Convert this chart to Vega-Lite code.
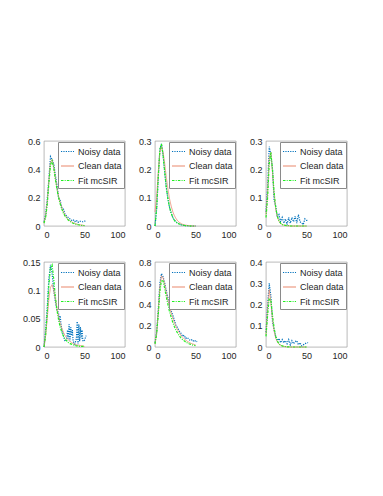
{
"$schema": "https://vega.github.io/schema/vega-lite/v6.json",
"background": "white",
"padding": {"left": 22, "top": 136, "right": 5, "bottom": 5},
"bounds": "flush",
"columns": 3,
"spacing": {"row": 36, "column": 30},
"data": {"values": [
{"p":1,"s":"Fit mcSIR","x":0,"y":0.02},{"p":1,"s":"Fit mcSIR","x":2,"y":0.06},{"p":1,"s":"Fit mcSIR","x":4,"y":0.15},{"p":1,"s":"Fit mcSIR","x":6,"y":0.30},{"p":1,"s":"Fit mcSIR","x":8,"y":0.43},{"p":1,"s":"Fit mcSIR","x":10,"y":0.46},{"p":1,"s":"Fit mcSIR","x":12,"y":0.41},{"p":1,"s":"Fit mcSIR","x":14,"y":0.33},{"p":1,"s":"Fit mcSIR","x":16,"y":0.26},{"p":1,"s":"Fit mcSIR","x":18,"y":0.20},{"p":1,"s":"Fit mcSIR","x":20,"y":0.155},{"p":1,"s":"Fit mcSIR","x":22,"y":0.12},{"p":1,"s":"Fit mcSIR","x":24,"y":0.09},{"p":1,"s":"Fit mcSIR","x":26,"y":0.07},{"p":1,"s":"Fit mcSIR","x":28,"y":0.055},{"p":1,"s":"Fit mcSIR","x":30,"y":0.042},{"p":1,"s":"Fit mcSIR","x":32,"y":0.032},{"p":1,"s":"Fit mcSIR","x":34,"y":0.025},{"p":1,"s":"Fit mcSIR","x":36,"y":0.019},{"p":1,"s":"Fit mcSIR","x":38,"y":0.015},{"p":1,"s":"Fit mcSIR","x":40,"y":0.011},{"p":1,"s":"Fit mcSIR","x":42,"y":0.009},{"p":1,"s":"Fit mcSIR","x":44,"y":0.007},{"p":1,"s":"Fit mcSIR","x":46,"y":0.005},{"p":1,"s":"Fit mcSIR","x":48,"y":0.004},{"p":1,"s":"Fit mcSIR","x":50,"y":0.003},
{"p":1,"s":"Clean data","x":0,"y":0.02},{"p":1,"s":"Clean data","x":2,"y":0.07},{"p":1,"s":"Clean data","x":4,"y":0.17},{"p":1,"s":"Clean data","x":6,"y":0.32},{"p":1,"s":"Clean data","x":8,"y":0.45},{"p":1,"s":"Clean data","x":10,"y":0.47},{"p":1,"s":"Clean data","x":12,"y":0.42},{"p":1,"s":"Clean data","x":14,"y":0.34},{"p":1,"s":"Clean data","x":16,"y":0.27},{"p":1,"s":"Clean data","x":18,"y":0.21},{"p":1,"s":"Clean data","x":20,"y":0.165},{"p":1,"s":"Clean data","x":22,"y":0.13},{"p":1,"s":"Clean data","x":24,"y":0.10},{"p":1,"s":"Clean data","x":26,"y":0.078},{"p":1,"s":"Clean data","x":28,"y":0.06},{"p":1,"s":"Clean data","x":30,"y":0.047},{"p":1,"s":"Clean data","x":32,"y":0.037},{"p":1,"s":"Clean data","x":34,"y":0.029},{"p":1,"s":"Clean data","x":36,"y":0.023},{"p":1,"s":"Clean data","x":38,"y":0.018},{"p":1,"s":"Clean data","x":40,"y":0.014},{"p":1,"s":"Clean data","x":42,"y":0.011},{"p":1,"s":"Clean data","x":44,"y":0.009},{"p":1,"s":"Clean data","x":46,"y":0.007},{"p":1,"s":"Clean data","x":48,"y":0.005},{"p":1,"s":"Clean data","x":50,"y":0.004},
{"p":1,"s":"Noisy data","x":0,"y":0.03},{"p":1,"s":"Noisy data","x":2,"y":0.08},{"p":1,"s":"Noisy data","x":4,"y":0.19},{"p":1,"s":"Noisy data","x":6,"y":0.33},{"p":1,"s":"Noisy data","x":8,"y":0.49},{"p":1,"s":"Noisy data","x":10,"y":0.47},{"p":1,"s":"Noisy data","x":12,"y":0.44},{"p":1,"s":"Noisy data","x":14,"y":0.36},{"p":1,"s":"Noisy data","x":16,"y":0.29},{"p":1,"s":"Noisy data","x":18,"y":0.20},{"p":1,"s":"Noisy data","x":20,"y":0.18},{"p":1,"s":"Noisy data","x":22,"y":0.13},{"p":1,"s":"Noisy data","x":24,"y":0.12},{"p":1,"s":"Noisy data","x":26,"y":0.08},{"p":1,"s":"Noisy data","x":28,"y":0.07},{"p":1,"s":"Noisy data","x":30,"y":0.06},{"p":1,"s":"Noisy data","x":32,"y":0.05},{"p":1,"s":"Noisy data","x":34,"y":0.04},{"p":1,"s":"Noisy data","x":36,"y":0.045},{"p":1,"s":"Noisy data","x":38,"y":0.03},{"p":1,"s":"Noisy data","x":40,"y":0.04},{"p":1,"s":"Noisy data","x":42,"y":0.025},{"p":1,"s":"Noisy data","x":44,"y":0.035},{"p":1,"s":"Noisy data","x":46,"y":0.03},{"p":1,"s":"Noisy data","x":48,"y":0.03},{"p":1,"s":"Noisy data","x":50,"y":0.035},{"p":1,"s":"Noisy data","x":52,"y":0.03},

{"p":2,"s":"Fit mcSIR","x":0,"y":0.0},{"p":2,"s":"Fit mcSIR","x":2,"y":0.06},{"p":2,"s":"Fit mcSIR","x":4,"y":0.17},{"p":2,"s":"Fit mcSIR","x":6,"y":0.27},{"p":2,"s":"Fit mcSIR","x":8,"y":0.29},{"p":2,"s":"Fit mcSIR","x":10,"y":0.25},{"p":2,"s":"Fit mcSIR","x":12,"y":0.19},{"p":2,"s":"Fit mcSIR","x":14,"y":0.135},{"p":2,"s":"Fit mcSIR","x":16,"y":0.095},{"p":2,"s":"Fit mcSIR","x":18,"y":0.065},{"p":2,"s":"Fit mcSIR","x":20,"y":0.045},{"p":2,"s":"Fit mcSIR","x":22,"y":0.03},{"p":2,"s":"Fit mcSIR","x":24,"y":0.02},{"p":2,"s":"Fit mcSIR","x":26,"y":0.014},{"p":2,"s":"Fit mcSIR","x":28,"y":0.01},{"p":2,"s":"Fit mcSIR","x":30,"y":0.007},{"p":2,"s":"Fit mcSIR","x":32,"y":0.005},{"p":2,"s":"Fit mcSIR","x":34,"y":0.003},{"p":2,"s":"Fit mcSIR","x":36,"y":0.002},{"p":2,"s":"Fit mcSIR","x":38,"y":0.001},{"p":2,"s":"Fit mcSIR","x":40,"y":0.001},{"p":2,"s":"Fit mcSIR","x":42,"y":0},{"p":2,"s":"Fit mcSIR","x":44,"y":0},{"p":2,"s":"Fit mcSIR","x":46,"y":0},{"p":2,"s":"Fit mcSIR","x":48,"y":0},{"p":2,"s":"Fit mcSIR","x":50,"y":0},
{"p":2,"s":"Clean data","x":0,"y":0.05},{"p":2,"s":"Clean data","x":2,"y":0.10},{"p":2,"s":"Clean data","x":4,"y":0.19},{"p":2,"s":"Clean data","x":6,"y":0.26},{"p":2,"s":"Clean data","x":8,"y":0.28},{"p":2,"s":"Clean data","x":10,"y":0.26},{"p":2,"s":"Clean data","x":12,"y":0.22},{"p":2,"s":"Clean data","x":14,"y":0.17},{"p":2,"s":"Clean data","x":16,"y":0.13},{"p":2,"s":"Clean data","x":18,"y":0.095},{"p":2,"s":"Clean data","x":20,"y":0.07},{"p":2,"s":"Clean data","x":22,"y":0.05},{"p":2,"s":"Clean data","x":24,"y":0.036},{"p":2,"s":"Clean data","x":26,"y":0.026},{"p":2,"s":"Clean data","x":28,"y":0.018},{"p":2,"s":"Clean data","x":30,"y":0.013},{"p":2,"s":"Clean data","x":32,"y":0.009},{"p":2,"s":"Clean data","x":34,"y":0.006},{"p":2,"s":"Clean data","x":36,"y":0.004},{"p":2,"s":"Clean data","x":38,"y":0.003},{"p":2,"s":"Clean data","x":40,"y":0.002},{"p":2,"s":"Clean data","x":42,"y":0.001},{"p":2,"s":"Clean data","x":44,"y":0.001},{"p":2,"s":"Clean data","x":46,"y":0},{"p":2,"s":"Clean data","x":48,"y":0},{"p":2,"s":"Clean data","x":50,"y":0},
{"p":2,"s":"Noisy data","x":0,"y":0.0},{"p":2,"s":"Noisy data","x":2,"y":0.06},{"p":2,"s":"Noisy data","x":4,"y":0.17},{"p":2,"s":"Noisy data","x":6,"y":0.27},{"p":2,"s":"Noisy data","x":8,"y":0.29},{"p":2,"s":"Noisy data","x":10,"y":0.25},{"p":2,"s":"Noisy data","x":12,"y":0.19},{"p":2,"s":"Noisy data","x":14,"y":0.135},{"p":2,"s":"Noisy data","x":16,"y":0.095},{"p":2,"s":"Noisy data","x":18,"y":0.065},{"p":2,"s":"Noisy data","x":20,"y":0.045},{"p":2,"s":"Noisy data","x":22,"y":0.03},{"p":2,"s":"Noisy data","x":24,"y":0.02},{"p":2,"s":"Noisy data","x":26,"y":0.014},{"p":2,"s":"Noisy data","x":28,"y":0.01},{"p":2,"s":"Noisy data","x":30,"y":0.007},{"p":2,"s":"Noisy data","x":32,"y":0.005},{"p":2,"s":"Noisy data","x":34,"y":0.003},{"p":2,"s":"Noisy data","x":36,"y":0.002},{"p":2,"s":"Noisy data","x":38,"y":0.001},{"p":2,"s":"Noisy data","x":40,"y":0.001},{"p":2,"s":"Noisy data","x":42,"y":0},{"p":2,"s":"Noisy data","x":44,"y":0},{"p":2,"s":"Noisy data","x":46,"y":0},{"p":2,"s":"Noisy data","x":48,"y":0},{"p":2,"s":"Noisy data","x":50,"y":0},

{"p":3,"s":"Fit mcSIR","x":0,"y":0.03},{"p":3,"s":"Fit mcSIR","x":2,"y":0.10},{"p":3,"s":"Fit mcSIR","x":4,"y":0.22},{"p":3,"s":"Fit mcSIR","x":6,"y":0.26},{"p":3,"s":"Fit mcSIR","x":8,"y":0.20},{"p":3,"s":"Fit mcSIR","x":10,"y":0.12},{"p":3,"s":"Fit mcSIR","x":12,"y":0.065},{"p":3,"s":"Fit mcSIR","x":14,"y":0.035},{"p":3,"s":"Fit mcSIR","x":16,"y":0.018},{"p":3,"s":"Fit mcSIR","x":18,"y":0.01},{"p":3,"s":"Fit mcSIR","x":20,"y":0.005},{"p":3,"s":"Fit mcSIR","x":22,"y":0.003},{"p":3,"s":"Fit mcSIR","x":24,"y":0.002},{"p":3,"s":"Fit mcSIR","x":26,"y":0.001},{"p":3,"s":"Fit mcSIR","x":28,"y":0.001},{"p":3,"s":"Fit mcSIR","x":30,"y":0},{"p":3,"s":"Fit mcSIR","x":35,"y":0},{"p":3,"s":"Fit mcSIR","x":40,"y":0},{"p":3,"s":"Fit mcSIR","x":45,"y":0},{"p":3,"s":"Fit mcSIR","x":50,"y":0},
{"p":3,"s":"Clean data","x":0,"y":0.04},{"p":3,"s":"Clean data","x":2,"y":0.12},{"p":3,"s":"Clean data","x":4,"y":0.24},{"p":3,"s":"Clean data","x":6,"y":0.26},{"p":3,"s":"Clean data","x":8,"y":0.19},{"p":3,"s":"Clean data","x":10,"y":0.11},{"p":3,"s":"Clean data","x":12,"y":0.06},{"p":3,"s":"Clean data","x":14,"y":0.032},{"p":3,"s":"Clean data","x":16,"y":0.017},{"p":3,"s":"Clean data","x":18,"y":0.009},{"p":3,"s":"Clean data","x":20,"y":0.005},{"p":3,"s":"Clean data","x":22,"y":0.003},{"p":3,"s":"Clean data","x":24,"y":0.002},{"p":3,"s":"Clean data","x":26,"y":0.001},{"p":3,"s":"Clean data","x":28,"y":0.001},{"p":3,"s":"Clean data","x":30,"y":0},{"p":3,"s":"Clean data","x":35,"y":0},{"p":3,"s":"Clean data","x":40,"y":0},{"p":3,"s":"Clean data","x":45,"y":0},{"p":3,"s":"Clean data","x":50,"y":0},
{"p":3,"s":"Noisy data","x":0,"y":0.05},{"p":3,"s":"Noisy data","x":2,"y":0.14},{"p":3,"s":"Noisy data","x":4,"y":0.28},{"p":3,"s":"Noisy data","x":6,"y":0.25},{"p":3,"s":"Noisy data","x":8,"y":0.20},{"p":3,"s":"Noisy data","x":10,"y":0.09},{"p":3,"s":"Noisy data","x":12,"y":0.07},{"p":3,"s":"Noisy data","x":14,"y":0.03},{"p":3,"s":"Noisy data","x":16,"y":0.04},{"p":3,"s":"Noisy data","x":18,"y":0.015},{"p":3,"s":"Noisy data","x":20,"y":0.03},{"p":3,"s":"Noisy data","x":22,"y":0.01},{"p":3,"s":"Noisy data","x":24,"y":0.025},{"p":3,"s":"Noisy data","x":26,"y":0.005},{"p":3,"s":"Noisy data","x":28,"y":0.03},{"p":3,"s":"Noisy data","x":30,"y":0.01},{"p":3,"s":"Noisy data","x":32,"y":0.03},{"p":3,"s":"Noisy data","x":34,"y":0.015},{"p":3,"s":"Noisy data","x":36,"y":0.035},{"p":3,"s":"Noisy data","x":38,"y":0.01},{"p":3,"s":"Noisy data","x":40,"y":0.04},{"p":3,"s":"Noisy data","x":42,"y":0.015},{"p":3,"s":"Noisy data","x":44,"y":0.01},{"p":3,"s":"Noisy data","x":46,"y":0.005},{"p":3,"s":"Noisy data","x":48,"y":0.025},{"p":3,"s":"Noisy data","x":50,"y":0.02},{"p":3,"s":"Noisy data","x":52,"y":0.02},

{"p":4,"s":"Fit mcSIR","x":0,"y":0},{"p":4,"s":"Fit mcSIR","x":2,"y":0.02},{"p":4,"s":"Fit mcSIR","x":4,"y":0.06},{"p":4,"s":"Fit mcSIR","x":6,"y":0.11},{"p":4,"s":"Fit mcSIR","x":8,"y":0.14},{"p":4,"s":"Fit mcSIR","x":10,"y":0.145},{"p":4,"s":"Fit mcSIR","x":12,"y":0.12},{"p":4,"s":"Fit mcSIR","x":14,"y":0.09},{"p":4,"s":"Fit mcSIR","x":16,"y":0.065},{"p":4,"s":"Fit mcSIR","x":18,"y":0.048},{"p":4,"s":"Fit mcSIR","x":20,"y":0.035},{"p":4,"s":"Fit mcSIR","x":22,"y":0.026},{"p":4,"s":"Fit mcSIR","x":24,"y":0.019},{"p":4,"s":"Fit mcSIR","x":26,"y":0.014},{"p":4,"s":"Fit mcSIR","x":28,"y":0.011},{"p":4,"s":"Fit mcSIR","x":30,"y":0.008},{"p":4,"s":"Fit mcSIR","x":32,"y":0.006},{"p":4,"s":"Fit mcSIR","x":34,"y":0.005},{"p":4,"s":"Fit mcSIR","x":36,"y":0.004},{"p":4,"s":"Fit mcSIR","x":38,"y":0.003},{"p":4,"s":"Fit mcSIR","x":40,"y":0.002},{"p":4,"s":"Fit mcSIR","x":42,"y":0.002},{"p":4,"s":"Fit mcSIR","x":44,"y":0.001},{"p":4,"s":"Fit mcSIR","x":46,"y":0.001},{"p":4,"s":"Fit mcSIR","x":48,"y":0.001},{"p":4,"s":"Fit mcSIR","x":50,"y":0.001},
{"p":4,"s":"Clean data","x":0,"y":0},{"p":4,"s":"Clean data","x":2,"y":0.02},{"p":4,"s":"Clean data","x":4,"y":0.05},{"p":4,"s":"Clean data","x":6,"y":0.085},{"p":4,"s":"Clean data","x":8,"y":0.105},{"p":4,"s":"Clean data","x":10,"y":0.11},{"p":4,"s":"Clean data","x":12,"y":0.10},{"p":4,"s":"Clean data","x":14,"y":0.085},{"p":4,"s":"Clean data","x":16,"y":0.068},{"p":4,"s":"Clean data","x":18,"y":0.054},{"p":4,"s":"Clean data","x":20,"y":0.042},{"p":4,"s":"Clean data","x":22,"y":0.033},{"p":4,"s":"Clean data","x":24,"y":0.026},{"p":4,"s":"Clean data","x":26,"y":0.02},{"p":4,"s":"Clean data","x":28,"y":0.016},{"p":4,"s":"Clean data","x":30,"y":0.013},{"p":4,"s":"Clean data","x":32,"y":0.01},{"p":4,"s":"Clean data","x":34,"y":0.008},{"p":4,"s":"Clean data","x":36,"y":0.006},{"p":4,"s":"Clean data","x":38,"y":0.005},{"p":4,"s":"Clean data","x":40,"y":0.004},{"p":4,"s":"Clean data","x":42,"y":0.003},{"p":4,"s":"Clean data","x":44,"y":0.003},{"p":4,"s":"Clean data","x":46,"y":0.002},{"p":4,"s":"Clean data","x":48,"y":0.002},{"p":4,"s":"Clean data","x":50,"y":0.001},
{"p":4,"s":"Noisy data","x":0,"y":0},{"p":4,"s":"Noisy data","x":2,"y":0.03},{"p":4,"s":"Noisy data","x":4,"y":0.07},{"p":4,"s":"Noisy data","x":6,"y":0.12},{"p":4,"s":"Noisy data","x":8,"y":0.145},{"p":4,"s":"Noisy data","x":10,"y":0.13},{"p":4,"s":"Noisy data","x":12,"y":0.10},{"p":4,"s":"Noisy data","x":14,"y":0.08},{"p":4,"s":"Noisy data","x":16,"y":0.065},{"p":4,"s":"Noisy data","x":18,"y":0.06},{"p":4,"s":"Noisy data","x":19,"y":0.045},{"p":4,"s":"Noisy data","x":20,"y":0.055},{"p":4,"s":"Noisy data","x":21,"y":0.04},{"p":4,"s":"Noisy data","x":22,"y":0.03},{"p":4,"s":"Noisy data","x":24,"y":0.02},{"p":4,"s":"Noisy data","x":26,"y":0.01},{"p":4,"s":"Noisy data","x":28,"y":0.012},{"p":4,"s":"Noisy data","x":29,"y":0.03},{"p":4,"s":"Noisy data","x":30,"y":0.015},{"p":4,"s":"Noisy data","x":31,"y":0.04},{"p":4,"s":"Noisy data","x":32,"y":0.01},{"p":4,"s":"Noisy data","x":33,"y":0.035},{"p":4,"s":"Noisy data","x":34,"y":0.02},{"p":4,"s":"Noisy data","x":35,"y":0.03},{"p":4,"s":"Noisy data","x":36,"y":0.01},{"p":4,"s":"Noisy data","x":38,"y":0.005},{"p":4,"s":"Noisy data","x":40,"y":0.015},{"p":4,"s":"Noisy data","x":41,"y":0.045},{"p":4,"s":"Noisy data","x":42,"y":0.005},{"p":4,"s":"Noisy data","x":43,"y":0.04},{"p":4,"s":"Noisy data","x":44,"y":0.01},{"p":4,"s":"Noisy data","x":45,"y":0.035},{"p":4,"s":"Noisy data","x":46,"y":0.015},{"p":4,"s":"Noisy data","x":47,"y":0.03},{"p":4,"s":"Noisy data","x":48,"y":0.01},{"p":4,"s":"Noisy data","x":50,"y":0.012},{"p":4,"s":"Noisy data","x":52,"y":0.02},

{"p":5,"s":"Fit mcSIR","x":0,"y":0.03},{"p":5,"s":"Fit mcSIR","x":2,"y":0.12},{"p":5,"s":"Fit mcSIR","x":4,"y":0.30},{"p":5,"s":"Fit mcSIR","x":6,"y":0.52},{"p":5,"s":"Fit mcSIR","x":8,"y":0.63},{"p":5,"s":"Fit mcSIR","x":10,"y":0.62},{"p":5,"s":"Fit mcSIR","x":12,"y":0.55},{"p":5,"s":"Fit mcSIR","x":14,"y":0.47},{"p":5,"s":"Fit mcSIR","x":16,"y":0.40},{"p":5,"s":"Fit mcSIR","x":18,"y":0.33},{"p":5,"s":"Fit mcSIR","x":20,"y":0.28},{"p":5,"s":"Fit mcSIR","x":22,"y":0.23},{"p":5,"s":"Fit mcSIR","x":24,"y":0.19},{"p":5,"s":"Fit mcSIR","x":26,"y":0.155},{"p":5,"s":"Fit mcSIR","x":28,"y":0.13},{"p":5,"s":"Fit mcSIR","x":30,"y":0.105},{"p":5,"s":"Fit mcSIR","x":32,"y":0.085},{"p":5,"s":"Fit mcSIR","x":34,"y":0.07},{"p":5,"s":"Fit mcSIR","x":36,"y":0.058},{"p":5,"s":"Fit mcSIR","x":38,"y":0.047},{"p":5,"s":"Fit mcSIR","x":40,"y":0.038},{"p":5,"s":"Fit mcSIR","x":42,"y":0.031},{"p":5,"s":"Fit mcSIR","x":44,"y":0.025},{"p":5,"s":"Fit mcSIR","x":46,"y":0.02},{"p":5,"s":"Fit mcSIR","x":48,"y":0.016},{"p":5,"s":"Fit mcSIR","x":50,"y":0.013},
{"p":5,"s":"Clean data","x":0,"y":0.03},{"p":5,"s":"Clean data","x":2,"y":0.13},{"p":5,"s":"Clean data","x":4,"y":0.33},{"p":5,"s":"Clean data","x":6,"y":0.56},{"p":5,"s":"Clean data","x":8,"y":0.67},{"p":5,"s":"Clean data","x":10,"y":0.65},{"p":5,"s":"Clean data","x":12,"y":0.59},{"p":5,"s":"Clean data","x":14,"y":0.51},{"p":5,"s":"Clean data","x":16,"y":0.44},{"p":5,"s":"Clean data","x":18,"y":0.38},{"p":5,"s":"Clean data","x":20,"y":0.32},{"p":5,"s":"Clean data","x":22,"y":0.27},{"p":5,"s":"Clean data","x":24,"y":0.23},{"p":5,"s":"Clean data","x":26,"y":0.19},{"p":5,"s":"Clean data","x":28,"y":0.16},{"p":5,"s":"Clean data","x":30,"y":0.135},{"p":5,"s":"Clean data","x":32,"y":0.11},{"p":5,"s":"Clean data","x":34,"y":0.092},{"p":5,"s":"Clean data","x":36,"y":0.077},{"p":5,"s":"Clean data","x":38,"y":0.064},{"p":5,"s":"Clean data","x":40,"y":0.053},{"p":5,"s":"Clean data","x":42,"y":0.044},{"p":5,"s":"Clean data","x":44,"y":0.036},{"p":5,"s":"Clean data","x":46,"y":0.03},{"p":5,"s":"Clean data","x":48,"y":0.025},{"p":5,"s":"Clean data","x":50,"y":0.02},
{"p":5,"s":"Noisy data","x":0,"y":0.04},{"p":5,"s":"Noisy data","x":2,"y":0.14},{"p":5,"s":"Noisy data","x":4,"y":0.35},{"p":5,"s":"Noisy data","x":6,"y":0.60},{"p":5,"s":"Noisy data","x":8,"y":0.69},{"p":5,"s":"Noisy data","x":10,"y":0.66},{"p":5,"s":"Noisy data","x":12,"y":0.60},{"p":5,"s":"Noisy data","x":14,"y":0.53},{"p":5,"s":"Noisy data","x":16,"y":0.46},{"p":5,"s":"Noisy data","x":18,"y":0.40},{"p":5,"s":"Noisy data","x":20,"y":0.34},{"p":5,"s":"Noisy data","x":22,"y":0.30},{"p":5,"s":"Noisy data","x":24,"y":0.25},{"p":5,"s":"Noisy data","x":26,"y":0.20},{"p":5,"s":"Noisy data","x":28,"y":0.18},{"p":5,"s":"Noisy data","x":30,"y":0.15},{"p":5,"s":"Noisy data","x":32,"y":0.13},{"p":5,"s":"Noisy data","x":34,"y":0.10},{"p":5,"s":"Noisy data","x":36,"y":0.11},{"p":5,"s":"Noisy data","x":38,"y":0.08},{"p":5,"s":"Noisy data","x":40,"y":0.09},{"p":5,"s":"Noisy data","x":42,"y":0.07},{"p":5,"s":"Noisy data","x":44,"y":0.06},{"p":5,"s":"Noisy data","x":46,"y":0.07},{"p":5,"s":"Noisy data","x":48,"y":0.05},{"p":5,"s":"Noisy data","x":50,"y":0.06},{"p":5,"s":"Noisy data","x":52,"y":0.05},

{"p":6,"s":"Fit mcSIR","x":0,"y":0.05},{"p":6,"s":"Fit mcSIR","x":2,"y":0.15},{"p":6,"s":"Fit mcSIR","x":4,"y":0.23},{"p":6,"s":"Fit mcSIR","x":6,"y":0.22},{"p":6,"s":"Fit mcSIR","x":8,"y":0.15},{"p":6,"s":"Fit mcSIR","x":10,"y":0.09},{"p":6,"s":"Fit mcSIR","x":12,"y":0.05},{"p":6,"s":"Fit mcSIR","x":14,"y":0.028},{"p":6,"s":"Fit mcSIR","x":16,"y":0.015},{"p":6,"s":"Fit mcSIR","x":18,"y":0.009},{"p":6,"s":"Fit mcSIR","x":20,"y":0.005},{"p":6,"s":"Fit mcSIR","x":22,"y":0.003},{"p":6,"s":"Fit mcSIR","x":24,"y":0.002},{"p":6,"s":"Fit mcSIR","x":26,"y":0.001},{"p":6,"s":"Fit mcSIR","x":30,"y":0},{"p":6,"s":"Fit mcSIR","x":35,"y":0},{"p":6,"s":"Fit mcSIR","x":40,"y":0},{"p":6,"s":"Fit mcSIR","x":45,"y":0},{"p":6,"s":"Fit mcSIR","x":50,"y":0},
{"p":6,"s":"Clean data","x":0,"y":0.06},{"p":6,"s":"Clean data","x":2,"y":0.18},{"p":6,"s":"Clean data","x":4,"y":0.27},{"p":6,"s":"Clean data","x":6,"y":0.21},{"p":6,"s":"Clean data","x":8,"y":0.13},{"p":6,"s":"Clean data","x":10,"y":0.075},{"p":6,"s":"Clean data","x":12,"y":0.042},{"p":6,"s":"Clean data","x":14,"y":0.024},{"p":6,"s":"Clean data","x":16,"y":0.013},{"p":6,"s":"Clean data","x":18,"y":0.008},{"p":6,"s":"Clean data","x":20,"y":0.005},{"p":6,"s":"Clean data","x":22,"y":0.003},{"p":6,"s":"Clean data","x":24,"y":0.002},{"p":6,"s":"Clean data","x":26,"y":0.001},{"p":6,"s":"Clean data","x":30,"y":0},{"p":6,"s":"Clean data","x":35,"y":0},{"p":6,"s":"Clean data","x":40,"y":0},{"p":6,"s":"Clean data","x":45,"y":0},{"p":6,"s":"Clean data","x":50,"y":0},
{"p":6,"s":"Noisy data","x":0,"y":0.07},{"p":6,"s":"Noisy data","x":2,"y":0.20},{"p":6,"s":"Noisy data","x":4,"y":0.30},{"p":6,"s":"Noisy data","x":6,"y":0.24},{"p":6,"s":"Noisy data","x":8,"y":0.12},{"p":6,"s":"Noisy data","x":10,"y":0.08},{"p":6,"s":"Noisy data","x":12,"y":0.05},{"p":6,"s":"Noisy data","x":14,"y":0.03},{"p":6,"s":"Noisy data","x":16,"y":0.04},{"p":6,"s":"Noisy data","x":18,"y":0.02},{"p":6,"s":"Noisy data","x":20,"y":0.035},{"p":6,"s":"Noisy data","x":22,"y":0.02},{"p":6,"s":"Noisy data","x":24,"y":0.03},{"p":6,"s":"Noisy data","x":26,"y":0.015},{"p":6,"s":"Noisy data","x":28,"y":0.035},{"p":6,"s":"Noisy data","x":30,"y":0.01},{"p":6,"s":"Noisy data","x":32,"y":0.03},{"p":6,"s":"Noisy data","x":34,"y":0.015},{"p":6,"s":"Noisy data","x":36,"y":0.025},{"p":6,"s":"Noisy data","x":38,"y":0.03},{"p":6,"s":"Noisy data","x":40,"y":0.01},{"p":6,"s":"Noisy data","x":42,"y":0.02},{"p":6,"s":"Noisy data","x":44,"y":0.005},{"p":6,"s":"Noisy data","x":46,"y":0.01},{"p":6,"s":"Noisy data","x":48,"y":0.015},{"p":6,"s":"Noisy data","x":50,"y":0.02},{"p":6,"s":"Noisy data","x":52,"y":0.02}
]},
"concat": [
{"width":81,"height":85,"transform":[{"filter":"datum.p==1"}],
 "encoding":{"x":{"field":"x","type":"quantitative","scale":{"domain":[0,100]},"axis":{"values":[0,50,100]}},
  "y":{"field":"y","type":"quantitative","scale":{"domain":[0,0.6]},"axis":{"values":[0,0.2,0.4,0.6]}},
  "color":{"field":"s","type":"nominal","scale":{"domain":["Noisy data","Clean data","Fit mcSIR"],"range":["#0072BD","#E8876A","#22EE22"]}},
  "strokeDash":{"field":"s","type":"nominal","scale":{"domain":["Noisy data","Clean data","Fit mcSIR"],"range":[[1.2,1.2],[1,0],[2.5,1.2,1,1.2]]}}},
 "layer":[
  {"transform":[{"filter":"datum.s=='Noisy data'"}],"mark":{"type":"line","strokeWidth":1.2}},
  {"transform":[{"filter":"datum.s=='Clean data'"}],"mark":{"type":"line","strokeWidth":0.8}},
  {"transform":[{"filter":"datum.s=='Fit mcSIR'"}],"mark":{"type":"line","strokeWidth":1.2}}]},
{"width":81,"height":85,"transform":[{"filter":"datum.p==2"}],
 "encoding":{"x":{"field":"x","type":"quantitative","scale":{"domain":[0,100]},"axis":{"values":[0,50,100]}},
  "y":{"field":"y","type":"quantitative","scale":{"domain":[0,0.3]},"axis":{"values":[0,0.1,0.2,0.3]}},
  "color":{"field":"s","type":"nominal","scale":{"domain":["Noisy data","Clean data","Fit mcSIR"],"range":["#0072BD","#E8876A","#22EE22"]}},
  "strokeDash":{"field":"s","type":"nominal","scale":{"domain":["Noisy data","Clean data","Fit mcSIR"],"range":[[1.2,1.2],[1,0],[2.5,1.2,1,1.2]]}}},
 "layer":[
  {"transform":[{"filter":"datum.s=='Noisy data'"}],"mark":{"type":"line","strokeWidth":1.2}},
  {"transform":[{"filter":"datum.s=='Clean data'"}],"mark":{"type":"line","strokeWidth":0.8}},
  {"transform":[{"filter":"datum.s=='Fit mcSIR'"}],"mark":{"type":"line","strokeWidth":1.2}}]},
{"width":81,"height":85,"transform":[{"filter":"datum.p==3"}],
 "encoding":{"x":{"field":"x","type":"quantitative","scale":{"domain":[0,100]},"axis":{"values":[0,50,100]}},
  "y":{"field":"y","type":"quantitative","scale":{"domain":[0,0.3]},"axis":{"values":[0,0.1,0.2,0.3]}},
  "color":{"field":"s","type":"nominal","scale":{"domain":["Noisy data","Clean data","Fit mcSIR"],"range":["#0072BD","#E8876A","#22EE22"]}},
  "strokeDash":{"field":"s","type":"nominal","scale":{"domain":["Noisy data","Clean data","Fit mcSIR"],"range":[[1.2,1.2],[1,0],[2.5,1.2,1,1.2]]}}},
 "layer":[
  {"transform":[{"filter":"datum.s=='Noisy data'"}],"mark":{"type":"line","strokeWidth":1.2}},
  {"transform":[{"filter":"datum.s=='Clean data'"}],"mark":{"type":"line","strokeWidth":0.8}},
  {"transform":[{"filter":"datum.s=='Fit mcSIR'"}],"mark":{"type":"line","strokeWidth":1.2}}]},
{"width":81,"height":85,"transform":[{"filter":"datum.p==4"}],
 "encoding":{"x":{"field":"x","type":"quantitative","scale":{"domain":[0,100]},"axis":{"values":[0,50,100]}},
  "y":{"field":"y","type":"quantitative","scale":{"domain":[0,0.15]},"axis":{"values":[0,0.05,0.1,0.15]}},
  "color":{"field":"s","type":"nominal","scale":{"domain":["Noisy data","Clean data","Fit mcSIR"],"range":["#0072BD","#E8876A","#22EE22"]}},
  "strokeDash":{"field":"s","type":"nominal","scale":{"domain":["Noisy data","Clean data","Fit mcSIR"],"range":[[1.2,1.2],[1,0],[2.5,1.2,1,1.2]]}}},
 "layer":[
  {"transform":[{"filter":"datum.s=='Noisy data'"}],"mark":{"type":"line","strokeWidth":1.2}},
  {"transform":[{"filter":"datum.s=='Clean data'"}],"mark":{"type":"line","strokeWidth":0.8}},
  {"transform":[{"filter":"datum.s=='Fit mcSIR'"}],"mark":{"type":"line","strokeWidth":1.2}}]},
{"width":81,"height":85,"transform":[{"filter":"datum.p==5"}],
 "encoding":{"x":{"field":"x","type":"quantitative","scale":{"domain":[0,100]},"axis":{"values":[0,50,100]}},
  "y":{"field":"y","type":"quantitative","scale":{"domain":[0,0.8]},"axis":{"values":[0,0.2,0.4,0.6,0.8]}},
  "color":{"field":"s","type":"nominal","scale":{"domain":["Noisy data","Clean data","Fit mcSIR"],"range":["#0072BD","#E8876A","#22EE22"]}},
  "strokeDash":{"field":"s","type":"nominal","scale":{"domain":["Noisy data","Clean data","Fit mcSIR"],"range":[[1.2,1.2],[1,0],[2.5,1.2,1,1.2]]}}},
 "layer":[
  {"transform":[{"filter":"datum.s=='Noisy data'"}],"mark":{"type":"line","strokeWidth":1.2}},
  {"transform":[{"filter":"datum.s=='Clean data'"}],"mark":{"type":"line","strokeWidth":0.8}},
  {"transform":[{"filter":"datum.s=='Fit mcSIR'"}],"mark":{"type":"line","strokeWidth":1.2}}]},
{"width":81,"height":85,"transform":[{"filter":"datum.p==6"}],
 "encoding":{"x":{"field":"x","type":"quantitative","scale":{"domain":[0,100]},"axis":{"values":[0,50,100]}},
  "y":{"field":"y","type":"quantitative","scale":{"domain":[0,0.4]},"axis":{"values":[0,0.1,0.2,0.3,0.4]}},
  "color":{"field":"s","type":"nominal","scale":{"domain":["Noisy data","Clean data","Fit mcSIR"],"range":["#0072BD","#E8876A","#22EE22"]}},
  "strokeDash":{"field":"s","type":"nominal","scale":{"domain":["Noisy data","Clean data","Fit mcSIR"],"range":[[1.2,1.2],[1,0],[2.5,1.2,1,1.2]]}}},
 "layer":[
  {"transform":[{"filter":"datum.s=='Noisy data'"}],"mark":{"type":"line","strokeWidth":1.2}},
  {"transform":[{"filter":"datum.s=='Clean data'"}],"mark":{"type":"line","strokeWidth":0.8}},
  {"transform":[{"filter":"datum.s=='Fit mcSIR'"}],"mark":{"type":"line","strokeWidth":1.2}}]}
],
"resolve": {"scale": {"y": "independent", "x": "independent", "color": "independent", "strokeDash": "independent"}, "legend": {"color": "independent", "strokeDash": "independent"}},
"config": {
 "font": "Liberation Sans",
 "view": {"stroke": "#8a8a8a", "strokeWidth": 0.6},
 "axis": {"title": null, "grid": false, "domain": false, "ticks": false, "labelExpr": "'' + datum.value", "labelFont": "Liberation Sans", "labelFontSize": 9, "labelColor": "#262626", "labelPadding": 4},
 "legend": {"orient": "top-right", "offset": 1, "title": null, "padding": 2, "strokeColor": "#8a8a8a", "fillColor": "white", "cornerRadius": 0, "labelFont": "Liberation Sans", "labelFontSize": 9, "labelColor": "#262626", "symbolType": "stroke", "symbolSize": 170, "symbolStrokeWidth": 1.2, "rowPadding": 1.5, "labelOffset": 3}
}
}
